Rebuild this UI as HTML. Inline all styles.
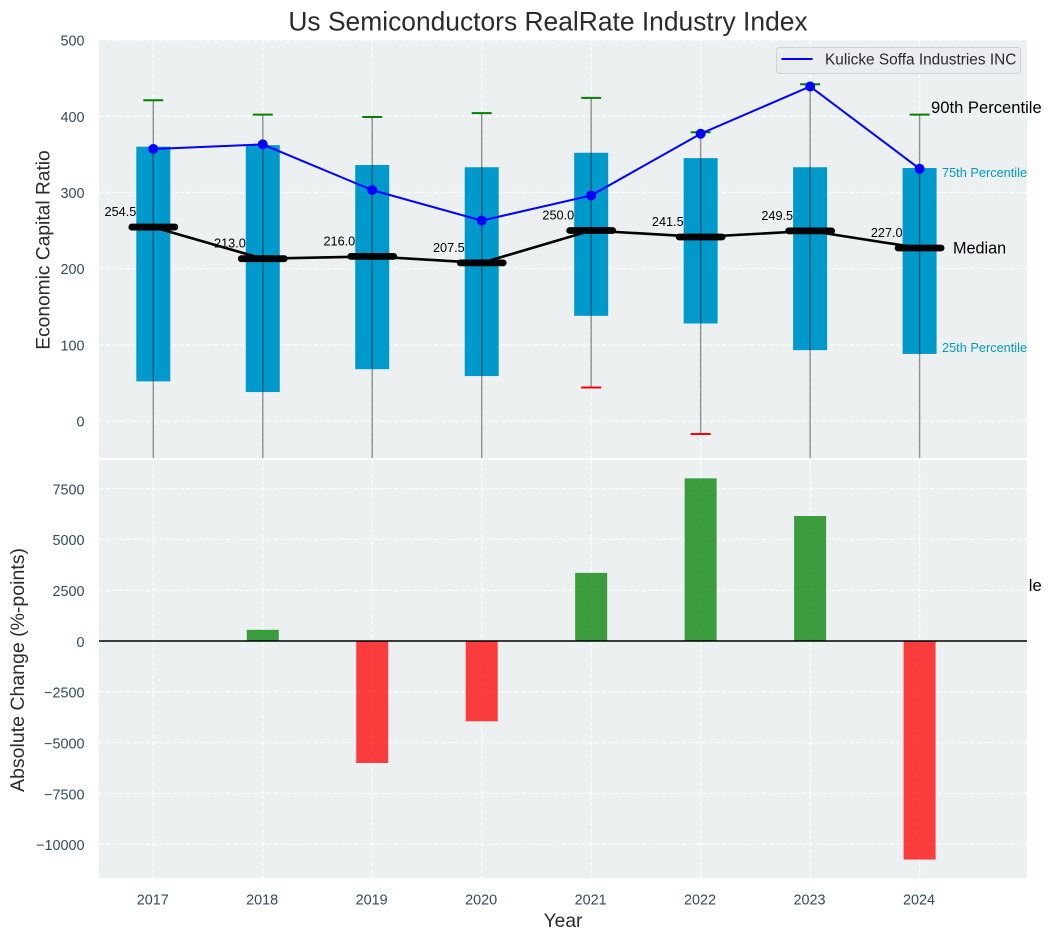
<!DOCTYPE html>
<html lang="en">
<head>
<meta charset="utf-8">
<title>Us Semiconductors RealRate Industry Index</title>
<style>
html,body{margin:0;padding:0;background:#fff;}
svg{display:block;font-family:"Liberation Sans",Arial,sans-serif;}
</style>
</head>
<body>
<svg id="chart" xmlns="http://www.w3.org/2000/svg" width="1051" height="940" viewBox="0 0 1051 940">
  <defs>
    <clipPath id="clip-top"><rect x="99" y="40" width="928" height="418"/></clipPath>
    <clipPath id="clip-bot"><rect x="99" y="460" width="928" height="418"/></clipPath>
    <clipPath id="clip-tenth"><rect x="1029" y="570" width="22" height="30"/></clipPath>
  </defs>
  <text x="548" y="30.5" text-anchor="middle" font-size="26.4" fill="#2b2b2b">Us Semiconductors RealRate Industry Index</text>
  <text transform="translate(49.3,250) rotate(-90)" text-anchor="middle" font-size="19.2" fill="#2b2b2b">Economic Capital Ratio</text>
  <text transform="translate(24,670) rotate(-90)" text-anchor="middle" font-size="19.5" fill="#2b2b2b">Absolute Change (%-points)</text>
  <text x="563" y="927" text-anchor="middle" font-size="19.2" fill="#2b2b2b">Year</text>
  <text x="931" y="591" font-size="16.6" fill="#000" clip-path="url(#clip-tenth)">10th Percentile</text>
  <g id="top-panel"></g>
  <g id="bottom-panel"></g>
  <g id="annotations">
    <text x="931" y="113" font-size="16.6" fill="#000">90th Percentile</text>
    <text x="942" y="177" font-size="12.75" fill="#0099cc">75th Percentile</text>
    <text x="953" y="253.5" font-size="16.2" fill="#000">Median</text>
    <text x="942" y="352" font-size="12.75" fill="#0099cc">25th Percentile</text>
  </g>
  <g>
    <rect x="776.5" y="47.5" width="244" height="26" rx="3" fill="#eaecf0" stroke="#cfd2d6" stroke-width="1"/>
    <line x1="781.5" x2="812.5" y1="59" y2="59" stroke="#0000ff" stroke-width="2"/>
    <text x="825" y="64.5" font-size="15.4" fill="#2b2b2b">Kulicke Soffa Industries INC</text>
  </g>
</svg>
<script>
// ---- chart data ----
const years = [2017, 2018, 2019, 2020, 2021, 2022, 2023, 2024];
const p90 = [421, 402, 399, 404, 424, 379, 442, 402];
const p75 = [360, 362, 336, 333, 352, 345, 333, 332];
const medians = [254.5, 213.0, 216.0, 207.5, 250.0, 241.5, 249.5, 227.0];
const p25 = [52, 38, 68, 59, 138, 128, 93, 88];
const p10 = [-90, -100, -85, -95, 44, -17, -70, -75];
const company = [357, 363, 303, 263, 296, 377, 439, 331];
const changes = [0, 550, -6000, -3950, 3350, 8000, 6150, -10750];
const topTicks = [0, 100, 200, 300, 400, 500];
const bottomTicks = [-10000, -7500, -5000, -2500, 0, 2500, 5000, 7500];

// ---- axis functions ----
const sx = v => 153.3 + (v - 2017) * 109.47;
const syTop = v => 421 - v * 0.762;
const syBot = v => 641 - v * 0.02033;
const minus = v => (v < 0 ? '\u2212' + Math.abs(v) : String(v));

const NS = 'http://www.w3.org/2000/svg';
function make(parent, tag, attrs, txt) {
  const el = document.createElementNS(NS, tag);
  for (const k in attrs) el.setAttribute(k, attrs[k]);
  if (txt !== undefined) el.textContent = txt;
  parent.appendChild(el);
  return el;
}
const TICK = '#34495e';
const GRID = {stroke: '#ffffff', 'stroke-width': 1.1, 'stroke-dasharray': '4.5 2.2'};

function panel(root, name, top, clipId) {
  const bg = make(root, 'rect', {x: 99, y: top, width: 928, height: 418, fill: '#ecf0f1'});
  
  
  const g = make(root, 'g', {'clip-path': 'url(#' + clipId + ')'});
  
  
  years.forEach(y => {
    const l = make(g, 'line', Object.assign({x1: sx(y), x2: sx(y), y1: top, y2: top + 418}, GRID));
    
    
  });
  return g;
}

// ---- top panel ----
const topRoot = document.getElementById('top-panel');
const topG = panel(topRoot, 'top-panel', 40, 'clip-top');
topTicks.forEach(t => {
  const l = make(topG, 'line', Object.assign({x1: 99, x2: 1027, y1: syTop(t), y2: syTop(t)}, GRID));
  
  
  const lab = make(topRoot, 'text', {x: 84.5, y: syTop(t) + 5.6, 'text-anchor': 'end', 'font-size': 14.4, fill: TICK}, minus(t));
  
  
});
years.forEach((y, i) => {
  const box = make(topG, 'rect', {x: sx(y) - 17, y: syTop(p75[i]), width: 34, height: syTop(p25[i]) - syTop(p75[i]), fill: '#0099cc'});
  
  
  const lab = make(topG, 'text', {x: sx(y) - 17, y: syTop(medians[i]) - 11, 'text-anchor': 'end', 'font-size': 12.7, fill: '#000'}, medians[i].toFixed(1));
  
  
});
years.forEach((y, i) => {
  const w = make(topG, 'line', {x1: sx(y), x2: sx(y), y1: syTop(p90[i]), y2: syTop(p10[i]), stroke: '#000', 'stroke-opacity': 0.42, 'stroke-width': 1.4});
  
  
  const hi = make(topG, 'line', {x1: sx(y) - 10, x2: sx(y) + 10, y1: syTop(p90[i]), y2: syTop(p90[i]), stroke: '#008000', 'stroke-width': 2});
  
  
  const lo = make(topG, 'line', {x1: sx(y) - 10, x2: sx(y) + 10, y1: syTop(p10[i]), y2: syTop(p10[i]), stroke: '#ff0000', 'stroke-width': 2});
  
  
});
const medLine = make(topG, 'polyline', {points: years.map((y, i) => sx(y) + ',' + syTop(medians[i])).join(' '), fill: 'none', stroke: '#000', 'stroke-width': 2.6});


years.forEach((y, i) => {
  const m = make(topG, 'line', {x1: sx(y) - 21.5, x2: sx(y) + 21.5, y1: syTop(medians[i]), y2: syTop(medians[i]), stroke: '#000', 'stroke-width': 6.8, 'stroke-linecap': 'round'});
  
  
});
const coLine = make(topG, 'polyline', {points: years.map((y, i) => sx(y) + ',' + syTop(company[i])).join(' '), fill: 'none', stroke: '#0000ff', 'stroke-width': 2});


years.forEach((y, i) => {
  const c = make(topG, 'circle', {cx: sx(y), cy: syTop(company[i]), r: 5, fill: '#0000ff'});
  
  
});

// ---- bottom panel ----
const botRoot = document.getElementById('bottom-panel');
const botG = panel(botRoot, 'bottom-panel', 460, 'clip-bot');
bottomTicks.forEach(t => {
  const l = make(botG, 'line', Object.assign({x1: 99, x2: 1027, y1: syBot(t), y2: syBot(t)}, GRID));
  
  
  const lab = make(botRoot, 'text', {x: 84.5, y: syBot(t) + 5.8, 'text-anchor': 'end', 'font-size': 14.4, fill: TICK}, minus(t));
  
  
});
years.forEach((y, i) => {
  const v = changes[i];
  const b = make(botG, 'rect', {x: sx(y) - 16, y: Math.min(syBot(v), syBot(0)), width: 32, height: Math.abs(syBot(v) - syBot(0)), fill: v >= 0 ? '#008000' : '#ff0000', 'fill-opacity': 0.75});
  
  
  const lab = make(botRoot, 'text', {x: sx(y) - 0.6, y: 904.4, 'text-anchor': 'middle', 'font-size': 14.4, fill: TICK}, String(y));
  
  
});
const zero = make(botG, 'line', {x1: 99, x2: 1027, y1: syBot(0), y2: syBot(0), stroke: '#000', 'stroke-width': 1.6});


</script>
</body>
</html>
